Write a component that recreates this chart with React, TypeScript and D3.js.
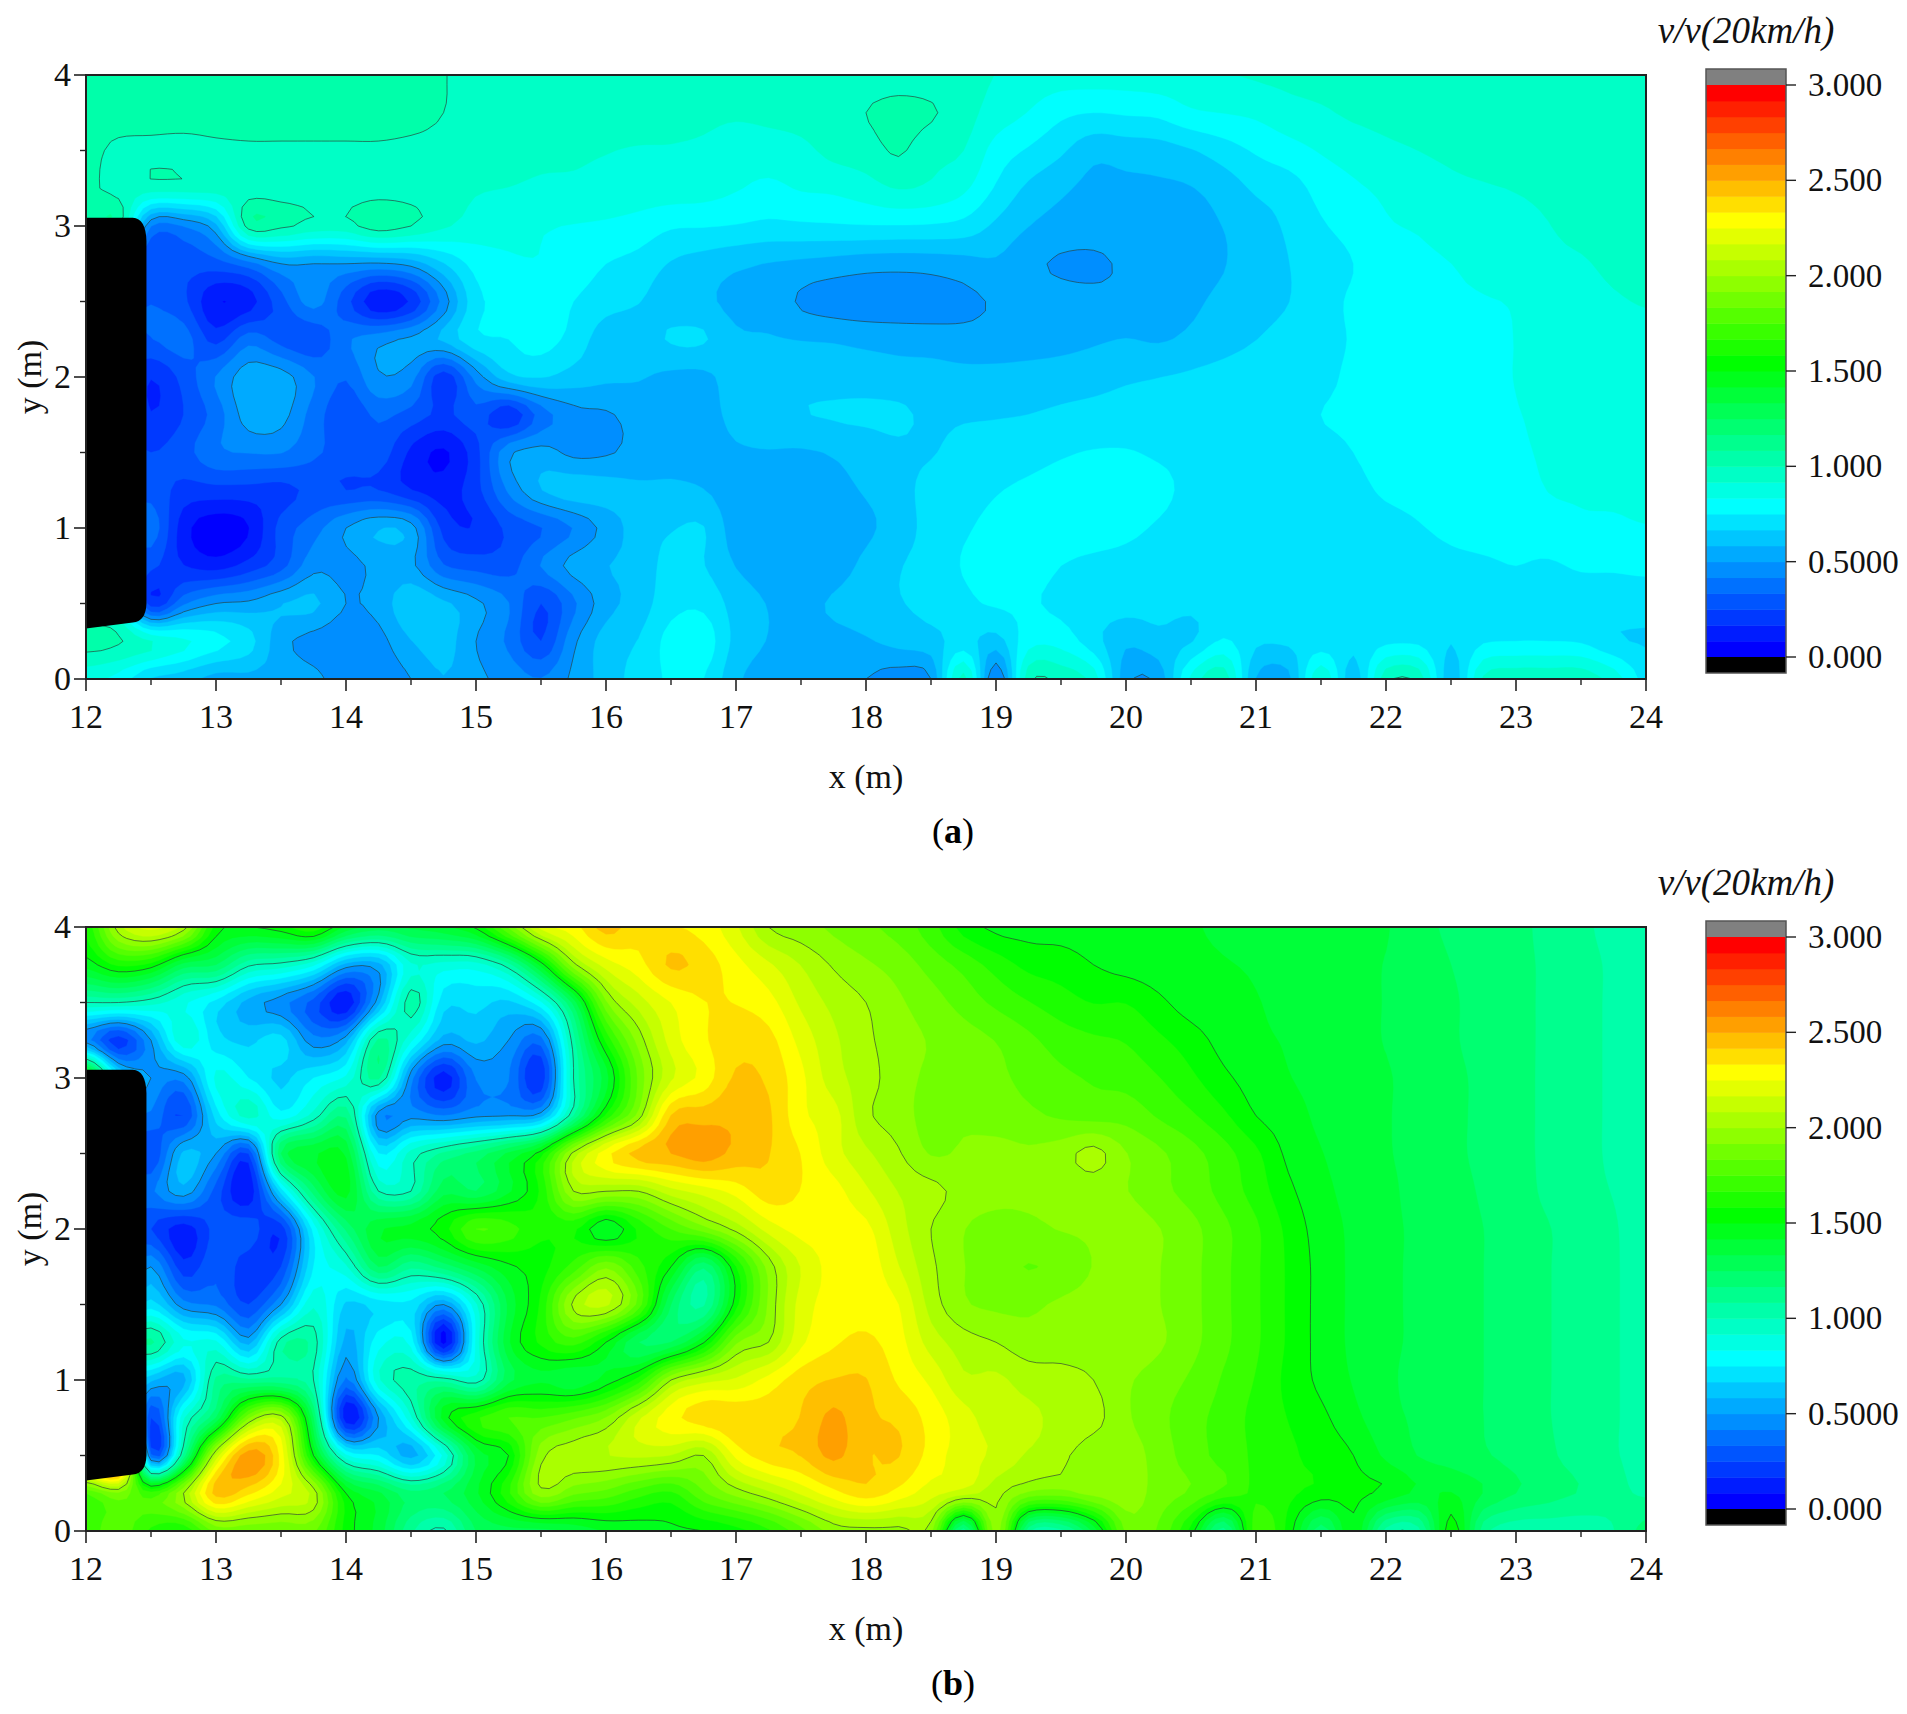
import React from "react";
import * as d3 from "d3";

// Grid axes: 49 columns (x = 12..24 by 0.25), 17 rows (y = 4..0 by 0.25)
const gridX = d3.range(49).map((i) => 12 + i * 0.25);
const gridY = d3.range(17).map((j) => 4 - j * 0.25);

// Panel (a)
const a400 = [1.03,1.03,1.04,1.04,1.04,1.04,1.04,1.04,1.04,1.04,1.02,1.002,.985,.98,.98,.98,.98,.98,.98,.97,.97,.97,.97,.97,.96,.96,.95,.94,.915,.88,.87,.87,.87,.88,.89,.91,.925,.935,.945,.95,.95,.95,.955,.96,.96,.96,.96,.96,.96];
const a375 = [1.03,1.03,1.03,1.03,1.03,1.03,1.03,1.03,1.03,1.03,1.02,1.0,.98,.97,.965,.96,.96,.96,.95,.94,.93,.94,.95,.97,1.0,1.03,1.01,.95,.88,.83,.77,.75,.76,.77,.82,.835,.85,.885,.905,.93,.94,.945,.95,.95,.955,.96,.96,.96,.96];
const a350 = [1.02,.985,.98,.975,.985,.99,.99,.99,.99,.99,.985,.98,.97,.96,.94,.93,.92,.91,.91,.90,.87,.875,.895,.94,.96,1.01,.94,.917,.80,.74,.68,.61,.62,.63,.66,.71,.76,.80,.84,.87,.90,.917,.93,.945,.96,.96,.97,.975,.975];
const a325 = [1.02,.97,.96,.96,.96,.96,.96,.96,.96,.96,.96,.95,.925,.915,.90,.90,.89,.88,.88,.87,.84,.815,.84,.85,.88,.92,.90,.85,.74,.65,.60,.56,.565,.57,.58,.62,.68,.71,.78,.82,.85,.88,.90,.91,.92,.93,.95,.96,.965];
const a300 = [.97,1.02,.42,.42,.56,1.04,1.02,.97,.97,1.05,1.0,.93,.88,.86,.84,.83,.82,.80,.76,.755,.745,.73,.735,.74,.745,.745,.74,.72,.65,.585,.55,.53,.54,.55,.56,.585,.63,.68,.74,.78,.825,.84,.86,.875,.90,.915,.935,.945,.95];
const a275 = [.3,.3,.25,.28,.3,.38,.5,.5,.5,.49,.53,.66,.78,.82,.83,.80,.75,.72,.66,.63,.60,.58,.565,.55,.535,.53,.535,.55,.57,.52,.49,.49,.51,.535,.56,.58,.62,.665,.71,.75,.80,.82,.833,.85,.87,.90,.91,.93,.935];
const a250 = [.3,.3,.33,.27,.09,.13,.30,.45,.28,.10,.18,.45,.72,.77,.80,.75,.70,.67,.62,.60,.56,.55,.49,.46,.45,.45,.46,.48,.51,.54,.53,.52,.52,.54,.57,.60,.63,.665,.72,.76,.78,.81,.825,.83,.84,.88,.89,.91,.92];
const a225 = [.3,.3,.33,.37,.22,.38,.30,.27,.40,.47,.52,.60,.73,.75,.78,.72,.62,.62,.675,.675,.60,.59,.58,.575,.56,.55,.54,.53,.535,.54,.55,.57,.585,.575,.60,.63,.665,.70,.73,.755,.78,.80,.81,.82,.835,.87,.88,.895,.90];
const a200 = [.3,.3,.17,.28,.42,.55,.54,.42,.34,.49,.45,.20,.45,.64,.67,.63,.60,.59,.565,.565,.62,.63,.635,.63,.63,.62,.62,.61,.61,.62,.63,.64,.655,.665,.68,.70,.72,.73,.74,.76,.79,.80,.805,.82,.835,.86,.87,.88,.885];
const a175 = [.3,.3,.17,.25,.37,.54,.53,.38,.27,.35,.30,.23,.30,.18,.37,.47,.49,.53,.54,.56,.60,.62,.66,.675,.68,.68,.65,.655,.66,.667,.68,.69,.70,.71,.72,.73,.735,.74,.75,.76,.79,.795,.80,.82,.83,.85,.865,.87,.875];
const a150 = [.3,.3,.25,.30,.40,.42,.42,.35,.30,.30,.15,.07,.22,.48,.53,.48,.49,.53,.55,.56,.575,.58,.575,.59,.62,.65,.66,.70,.71,.72,.74,.755,.755,.74,.73,.73,.735,.74,.74,.75,.78,.78,.79,.81,.82,.845,.855,.86,.865];
const a125 = [.3,.3,.30,.22,.22,.22,.22,.27,.25,.25,.17,.13,.22,.43,.58,.63,.62,.60,.60,.585,.54,.55,.56,.565,.59,.63,.70,.72,.745,.765,.785,.80,.79,.77,.73,.72,.72,.72,.72,.73,.76,.77,.78,.80,.80,.835,.84,.845,.85];
const a100 = [.3,.3,.38,.12,.03,.08,.28,.38,.50,.58,.54,.22,.17,.27,.33,.42,.53,.62,.66,.67,.54,.54,.54,.55,.57,.62,.70,.74,.77,.79,.80,.79,.77,.74,.71,.70,.70,.70,.70,.71,.725,.745,.765,.775,.775,.80,.82,.82,.83];
const a075 = [.3,.3,.27,.17,.13,.20,.30,.47,.47,.52,.52,.34,.30,.30,.42,.53,.58,.61,.70,.67,.58,.55,.54,.555,.60,.66,.70,.755,.78,.79,.75,.73,.72,.70,.69,.68,.68,.69,.69,.70,.71,.715,.73,.74,.75,.74,.76,.76,.77];
const a050 = [.85,.8,.20,.40,.50,.52,.58,.60,.50,.53,.65,.60,.52,.42,.25,.40,.55,.62,.72,.73,.63,.58,.57,.59,.62,.66,.69,.73,.76,.76,.73,.71,.70,.69,.68,.68,.67,.68,.68,.68,.69,.70,.70,.71,.72,.71,.71,.71,.70];
const a025 = [1.03,1.01,.92,.85,.78,.70,.53,.47,.44,.47,.58,.62,.50,.40,.25,.48,.62,.67,.78,.80,.64,.58,.57,.565,.575,.61,.635,.70,.63,.80,.80,.70,.60,.64,.66,.76,.68,.68,.70,.69,.73,.73,.67,.74,.75,.75,.74,.68,.66];
const a000 = [.86,.80,.66,.62,.55,.56,.55,.52,.46,.44,.50,.58,.52,.47,.42,.52,.62,.70,.76,.75,.60,.55,.54,.53,.50,.46,.50,.95,.42,.97,.97,.88,.53,.53,.85,.97,.58,.56,.90,.62,.97,.97,.62,.93,.97,.97,.97,.88,.72];
const rowsA = [a400,a375,a350,a325,a300,a275,a250,a225,a200,a175,a150,a125,a100,a075,a050,a025,a000];

// Panel (b)
const b400 = [1.6,2.05,2.2,2.05,1.55,1.5,1.55,1.65,1.4,1.3,1.35,1.4,1.52,1.85,2.2,2.3,2.45,2.36,2.34,2.30,2.18,2.0,1.95,1.9,1.85,1.8,1.7,1.55,1.48,1.47,1.47,1.46,1.45,1.43,1.42,1.41,1.40,1.38,1.36,1.35,1.34,1.27,1.24,1.21,1.19,1.14,1.10,1.06,1.05];
const b375 = [1.45,1.6,1.55,1.3,1.25,1.02,.97,.85,.55,.55,.9,.88,.88,1.05,1.45,1.97,2.2,2.3,2.43,2.38,2.28,2.18,2.08,1.99,1.93,1.88,1.80,1.72,1.63,1.56,1.54,1.5,1.47,1.45,1.43,1.42,1.41,1.39,1.37,1.35,1.33,1.28,1.25,1.22,1.19,1.15,1.11,1.07,1.04];
const b350 = [1.0,1.0,.95,.85,.72,.55,.45,.3,.1,.55,1.05,.7,.7,.65,.82,1.28,1.9,2.12,2.25,2.33,2.33,2.28,2.15,2.06,2.0,1.93,1.87,1.80,1.73,1.67,1.62,1.58,1.58,1.52,1.46,1.44,1.42,1.40,1.38,1.35,1.33,1.29,1.26,1.22,1.19,1.15,1.11,1.07,1.04];
const b325 = [.45,.2,.5,.9,.7,.65,.7,.45,.55,1.1,.85,.55,.6,.5,.38,1.05,1.6,1.95,2.2,2.32,2.38,2.36,2.22,2.10,2.02,1.95,1.91,1.87,1.83,1.77,1.71,1.68,1.66,1.60,1.54,1.47,1.43,1.41,1.38,1.35,1.33,1.29,1.26,1.22,1.19,1.15,1.11,1.07,1.04];
const b300 = [1.5,.7,.5,.45,.85,.75,.65,.75,.85,1.1,.45,.12,.42,.42,.18,1.0,1.38,1.85,2.15,2.28,2.43,2.40,2.27,2.12,2.04,1.95,1.90,1.87,1.85,1.81,1.77,1.74,1.72,1.67,1.60,1.52,1.46,1.42,1.39,1.35,1.34,1.30,1.27,1.23,1.19,1.15,1.11,1.07,1.04];
const b275 = [.4,.4,.4,.25,.7,.95,.78,.95,1.15,.45,.47,.42,.48,.5,.55,1.08,1.6,1.95,2.42,2.46,2.48,2.43,2.27,2.2,2.02,1.96,1.88,1.9,1.87,1.85,1.82,1.80,1.80,1.74,1.68,1.60,1.50,1.45,1.40,1.37,1.34,1.30,1.27,1.23,1.19,1.15,1.11,1.07,1.04];
const b250 = [.4,.4,.25,.6,.5,.25,1.25,1.4,1.4,.75,.95,1.1,1.2,1.35,1.55,2.03,2.3,2.45,2.5,2.55,2.47,2.42,2.33,2.2,2.1,2.01,1.91,1.93,1.95,1.93,1.96,2.03,1.92,1.85,1.78,1.70,1.60,1.48,1.42,1.38,1.34,1.31,1.27,1.23,1.19,1.15,1.11,1.07,1.04];
const b225 = [.4,.4,.4,.55,.3,.1,.7,1.2,1.45,1.0,1.0,1.3,1.25,1.4,1.6,2.0,2.0,2.0,2.13,2.2,2.28,2.38,2.33,2.28,2.18,2.08,2.03,1.97,1.95,1.93,1.93,1.94,1.92,1.86,1.80,1.72,1.63,1.52,1.44,1.39,1.35,1.31,1.28,1.24,1.20,1.15,1.11,1.08,1.05];
const b200 = [.3,.3,.25,.12,.28,.3,.2,.78,1.18,1.4,1.45,1.55,1.75,1.7,1.6,1.6,1.42,1.6,1.75,1.88,2.03,2.2,2.28,2.28,2.27,2.12,2.0,1.92,1.88,1.90,1.92,1.93,1.96,1.92,1.86,1.77,1.68,1.56,1.46,1.40,1.35,1.32,1.28,1.25,1.21,1.17,1.13,1.09,1.05];
const b175 = [.3,.3,.5,.2,.32,.2,.25,.75,.9,1.25,1.1,1.2,1.35,1.48,1.55,1.7,1.9,1.7,1.5,1.18,1.58,1.95,2.17,2.28,2.3,2.17,2.02,1.92,1.87,1.83,1.86,1.92,1.96,1.92,1.86,1.77,1.68,1.57,1.47,1.40,1.35,1.32,1.29,1.25,1.21,1.17,1.13,1.09,1.06];
const b150 = [.5,.5,.7,.45,.4,.25,.5,.9,.65,.7,.72,.5,.9,1.35,1.6,2.02,2.1,1.8,1.25,1.07,1.55,1.93,2.2,2.28,2.3,2.25,2.05,1.93,1.9,1.9,1.93,1.95,1.97,1.92,1.86,1.77,1.68,1.57,1.47,1.40,1.35,1.32,1.29,1.25,1.21,1.17,1.13,1.09,1.06];
const b125 = [1,1,1.1,.85,.85,.55,1.05,1.05,.55,.8,.8,.05,.85,1.4,1.6,1.7,1.5,1.25,1.25,1.49,1.9,2.0,2.23,2.32,2.35,2.28,2.13,2.04,2.0,1.95,1.96,1.96,1.97,1.93,1.86,1.77,1.68,1.57,1.47,1.40,1.35,1.32,1.29,1.25,1.21,1.17,1.13,1.09,1.06];
const b100 = [.8,.8,.6,.55,1.1,1.1,1.1,1.0,.4,.9,1.05,1.05,.95,1.3,1.4,1.35,1.45,1.62,2.0,2.13,2.18,2.28,2.38,2.42,2.42,2.32,2.23,2.1,2.1,2.05,2.03,2.0,1.93,1.88,1.82,1.74,1.66,1.56,1.48,1.41,1.35,1.31,1.29,1.25,1.21,1.17,1.13,1.09,1.06];
const b075 = [1.4,1.4,.25,.9,1.25,1.9,2.05,1.25,.1,.5,.9,1.45,1.65,1.75,1.75,1.82,1.92,2.15,2.3,2.38,2.4,2.38,2.42,2.52,2.43,2.4,2.3,2.2,2.12,2.1,2.06,2.03,1.93,1.86,1.78,1.72,1.64,1.58,1.52,1.44,1.36,1.32,1.29,1.25,1.21,1.17,1.13,1.09,1.06];
const b050 = [2.6,2.9,.35,1.1,2.1,2.55,2.3,1.5,.85,.75,.55,.85,1.35,1.5,1.97,2.05,2.08,2.1,2.08,2.0,2.27,2.38,2.42,2.52,2.42,2.42,2.3,2.2,2.15,2.07,2.02,1.95,1.96,1.88,1.79,1.72,1.65,1.60,1.55,1.50,1.40,1.33,1.30,1.26,1.22,1.18,1.13,1.09,1.06];
const b025 = [1.75,1.9,1.7,2.0,2.45,2.35,2.2,2.05,1.5,1.35,1.2,1.25,1.4,1.65,1.97,1.85,1.8,1.7,1.65,1.82,1.95,2.06,2.18,2.30,2.38,2.3,2.2,2.12,2.03,1.9,1.88,1.95,1.97,1.88,1.82,1.72,1.65,1.60,1.55,1.52,1.48,1.40,1.42,1.33,1.25,1.2,1.16,1.11,1.07];
const b000 = [1.7,1.8,1.65,1.6,1.85,1.85,1.85,1.85,1.55,1.38,1.1,.98,1.25,1.3,1.3,1.35,1.42,1.45,1.48,1.5,1.55,1.65,1.8,1.95,1.97,1.97,1.95,1.1,1.97,1.10,1.05,1.35,1.85,1.82,1.55,1.12,1.72,1.55,1.20,1.48,1.05,1.05,1.55,1.12,1.03,1.03,1.03,1.08,1.2];
const rowsB = [b400,b375,b350,b325,b300,b275,b250,b225,b200,b175,b150,b125,b100,b075,b050,b025,b000];

const xMajor = [12,13,14,15,16,17,18,19,20,21,22,23,24];
const xMinor = d3.range(12.5, 24, 1);
const yMajor = [0,1,2,3,4];
const yMinor = [0.5,1.5,2.5,3.5];
const legendTicks = [3,2.5,2,1.5,1,0.5,0];
const legendLabels = ["3.000","2.500","2.000","1.500","1.000","0.5000","0.000"];
const lineLevels = [0.5,1,1.5,2];
const bandCount = 36;
const bandStep = 3 / bandCount;
const renderFactor = 4;

const SERIF = "'Liberation Serif','Times New Roman',serif";

function bandColor(i: number) {
  const r = Math.round;
  if (i <= 9) return `rgb(0,${r((i * 255) / 9)},255)`;
  if (i <= 18) return `rgb(0,255,${r(((18 - i) * 255) / 9)})`;
  if (i <= 27) return `rgb(${r(((i - 18) * 255) / 9)},255,0)`;
  return `rgb(255,${r(((35 - i) * 255) / 8)},0)`;
}

// Drawing-time surface: smooth spline through the read values, so contour edges are curved.
function crWeights(t: number) {
  const t2 = t * t;
  const t3 = t2 * t;
  return [
    -0.5 * t3 + t2 - 0.5 * t,
    1.5 * t3 - 2.5 * t2 + 1,
    -1.5 * t3 + 2 * t2 + 0.5 * t,
    0.5 * t3 - 0.5 * t2,
  ];
}
function splineSurface(rows: number[][], f: number) {
  const ny = rows.length;
  const nx = rows[0].length;
  const W = (nx - 1) * f + 1;
  const H = (ny - 1) * f + 1;
  const out = new Array(W * H);
  const cl = (v: number, n: number) => Math.max(0, Math.min(n - 1, v));
  for (let j = 0; j < H; j++) {
    const gy = Math.min(Math.floor(j / f), ny - 2);
    const wy = crWeights(j / f - gy);
    for (let i = 0; i < W; i++) {
      const gx = Math.min(Math.floor(i / f), nx - 2);
      const wx = crWeights(i / f - gx);
      let s = 0;
      for (let b = 0; b < 4; b++) {
        const r = rows[cl(gy - 1 + b, ny)];
        for (let a = 0; a < 4; a++) s += wy[b] * wx[a] * r[cl(gx - 1 + a, nx)];
      }
      out[j * W + i] = Math.max(0, s);
    }
  }
  return { out, W, H };
}

function Panel({ rows, offset, tag }: { rows: number[][]; offset: number; tag: string }) {
  const top = 75 + offset;
  const bottom = 679 + offset;
  const left = 86;
  const right = 1646;
  const x = d3.scaleLinear().domain([12, 24]).range([left, right]);
  const y = d3.scaleLinear().domain([0, 4]).range([bottom, top]);
  const { out, W, H } = splineSurface(rows, renderFactor);
  const dx = (gridX[1] - gridX[0]) / renderFactor;
  const dy = (gridY[0] - gridY[1]) / renderFactor;
  const gen = d3.contours().size([W, H]).smooth(true);
  const transform = d3.geoTransform({
    point(px: number, py: number) {
      (this as any).stream.point(x(12 + (px - 0.5) * dx), y(4 - (py - 0.5) * dy));
    },
  });
  const path = d3.geoPath(transform);
  const bands = d3.range(1, bandCount).map((k) => ({
    k,
    d: path(gen.contour(out, k * bandStep) as any) || "",
  }));
  const lines = lineLevels.map((lv) => path(gen.contour(out, lv) as any) || "");
  const leg = d3.scaleLinear().domain([0, 3]).range([657 + offset, 85 + offset]);
  const cid = `clip-${tag}`;
  const ob =
    `M${x(12)},${y(3.054)} L${x(12.36)},${y(3.054)} Q${x(12.46)},${y(3.05)} ${x(12.465)},${y(2.9)} ` +
    `L${x(12.465)},${y(0.5)} Q${x(12.46)},${y(0.38)} ${x(12.36)},${y(0.375)} L${x(12)},${y(0.335)} Z`;
  return (
    <g>
      <defs>
        <clipPath id={cid}>
          <rect x={left} y={top} width={right - left} height={bottom - top} />
        </clipPath>
      </defs>
      <g clipPath={`url(#${cid})`}>
        <rect x={left} y={top} width={right - left} height={bottom - top} fill={bandColor(0)} />
        {bands.map((b) => (
          <path key={b.k} d={b.d} fill={bandColor(b.k)} stroke={bandColor(b.k)} strokeWidth={0.4} />
        ))}
        {lines.map((d, i) => (
          <path key={i} d={d} fill="none" stroke="#2a3a3a" strokeOpacity={0.65} strokeWidth={1} />
        ))}
        <path d={ob} fill="#000" />
      </g>
      <rect x={left} y={top} width={right - left} height={bottom - top} fill="none" stroke="#222" strokeWidth={2} />
      {xMajor.map((t) => (
        <g key={t}>
          <line x1={x(t)} x2={x(t)} y1={bottom} y2={bottom + 12} stroke="#222" strokeWidth={1.6} />
          <text x={x(t)} y={bottom + 49} textAnchor="middle" fontFamily={SERIF} fontSize={34} fill="#111">{t}</text>
        </g>
      ))}
      {xMinor.map((t) => (
        <line key={t} x1={x(t)} x2={x(t)} y1={bottom} y2={bottom + 6} stroke="#222" strokeWidth={1.4} />
      ))}
      {yMajor.map((t) => (
        <g key={t}>
          <line x1={left - 12} x2={left} y1={y(t)} y2={y(t)} stroke="#222" strokeWidth={1.6} />
          <text x={71} y={y(t) + 11} textAnchor="end" fontFamily={SERIF} fontSize={34} fill="#111">{t}</text>
        </g>
      ))}
      {yMinor.map((t) => (
        <line key={t} x1={left - 6} x2={left} y1={y(t)} y2={y(t)} stroke="#222" strokeWidth={1.4} />
      ))}
      <text x={866} y={bottom + 109} textAnchor="middle" fontFamily={SERIF} fontSize={34} fill="#111">x (m)</text>
      <text transform={`translate(41,${377 + offset}) rotate(-90)`} textAnchor="middle" fontFamily={SERIF} fontSize={34} fill="#111">y (m)</text>
      <text x={953} y={bottom + 164} textAnchor="middle" fontFamily={SERIF} fontSize={36} fill="#000">
        (<tspan fontWeight="bold">{tag}</tspan>)
      </text>

      <text x={1746} y={43 + offset} textAnchor="middle" fontFamily={SERIF} fontStyle="italic" fontSize={37} fill="#111">v/v(20km/h)</text>
      <rect x={1706} y={69 + offset} width={80} height={leg(3) - (69 + offset)} fill="#808080" />
      {d3.range(bandCount).map((k) => (
        <rect key={k} x={1706} y={leg((k + 1) * bandStep)} width={80} height={leg(k * bandStep) - leg((k + 1) * bandStep) + 0.5} fill={bandColor(k)} />
      ))}
      <rect x={1706} y={leg(0)} width={80} height={673 + offset - leg(0)} fill="#000" />
      <rect x={1706} y={69 + offset} width={80} height={604} fill="none" stroke="#555" strokeWidth={1.5} />
      {legendTicks.map((t, i) => (
        <g key={t}>
          <line x1={1786} x2={1796} y1={leg(t)} y2={leg(t)} stroke="#222" strokeWidth={1.4} />
          <text x={1808} y={leg(t) + 11} fontFamily={SERIF} fontSize={33} fill="#111">{legendLabels[i]}</text>
        </g>
      ))}
    </g>
  );
}

export default function App() {
  return (
    <svg width={1907} height={1714} style={{ position: "absolute", left: 0, top: 0, display: "block", background: "#fff" }}>
      <Panel rows={rowsA} offset={0} tag="a" />
      <Panel rows={rowsB} offset={852} tag="b" />
    </svg>
  );
}
